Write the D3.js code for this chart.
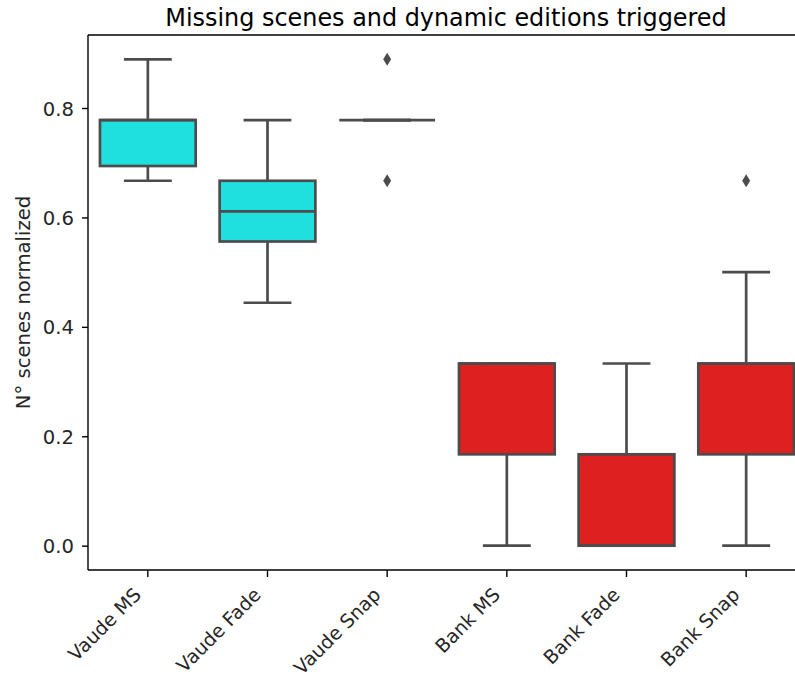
<!DOCTYPE html>
<html>
<head>
<meta charset="utf-8">
<script src="https://cdn.jsdelivr.net/npm/d3@7"></script>
<style>
  html, body { margin: 0; padding: 0; background: #fff; }
  svg { display: block; }
  svg text { font-family: "DejaVu Sans", sans-serif; }
</style>
</head>
<body>
<svg id="chart" width="795" height="679"></svg>
<script>
// Box statistics per condition (normalized number of missing scenes)
const categories   = ["Vaude MS", "Vaude Fade", "Vaude Snap", "Bank MS", "Bank Fade", "Bank Snap"];
const groups       = ["Vaude", "Vaude", "Vaude", "Bank", "Bank", "Bank"];
const whiskerLow   = [0.667, 0.444, 0.778, 0.000, 0.000, 0.000];
const quartile1    = [0.694, 0.556, 0.778, 0.167, 0.000, 0.167];
const medians      = [0.778, 0.611, 0.778, 0.333, 0.000, 0.333];
const quartile3    = [0.778, 0.667, 0.778, 0.333, 0.167, 0.333];
const whiskerHigh  = [0.889, 0.778, 0.778, 0.333, 0.333, 0.500];
const outliers     = [[], [], [0.889, 0.667], [], [], [0.667]];
const yTicks       = [0.0, 0.2, 0.4, 0.6, 0.8];
const groupColors  = { Vaude: "#20dfdf", Bank: "#df2020" };

const lineGray = "#4c4c4c";
const svg = d3.select("#chart");
const margin = { left: 88, right: -11, top: 35, bottom: 109 };
const W = 795, H = 679;
const x0 = margin.left, x1 = W - margin.right;
const y0 = margin.top, y1 = H - margin.bottom;

const boxes = categories.map((c, i) => ({
  cat: c, group: groups[i], lo: whiskerLow[i], q1: quartile1[i], med: medians[i],
  q3: quartile3[i], hi: whiskerHigh[i], fliers: outliers[i]
}));

const allVals = boxes.flatMap(b => [b.lo, b.hi, ...b.fliers]);
const vMin = d3.min(allVals), vMax = d3.max(allVals);
const pad = (vMax - vMin) * 0.05;

const x = d3.scaleBand().domain(categories).range([x0, x1]).paddingInner(0).paddingOuter(0);
const y = d3.scaleLinear().domain([vMin - pad, vMax + pad]).range([y1, y0]);

const boxW = x.bandwidth() * 0.8;
const capW = boxW * 0.5;
const lw = 2.7;
const fontFam = '"DejaVu Sans", sans-serif';
const tickFont = "19.6px";

// axes
const yAxis = svg.append("g").attr("transform", `translate(${x0},0)`)
  .call(d3.axisLeft(y).tickValues(yTicks).tickFormat(d3.format(".1f")).tickSize(6).tickPadding(8));
const xAxis = svg.append("g").attr("transform", `translate(0,${y1})`)
  .call(d3.axisBottom(x).tickSize(7).tickPadding(6));
[yAxis, xAxis].forEach(a => {
  a.attr("font-family", fontFam).attr("font-size", null);
  a.select(".domain").remove();
  a.selectAll(".tick line").attr("stroke", "#000").attr("stroke-width", 1.4);
  a.selectAll(".tick text").attr("fill", "#262626").style("font-size", tickFont);
});
yAxis.selectAll(".tick text").attr("dy", "0.36em");
xAxis.selectAll(".tick text")
  .style("font-size", "19px")
  .attr("text-anchor", "end")
  .attr("x", 0).attr("y", 0).attr("dy", 0)
  .attr("transform", "translate(-5.5,26) rotate(-45)");

// boxes
const gBox = svg.append("g");
boxes.forEach(b => {
  const cx = x(b.cat) + x.bandwidth() / 2;
  const g = gBox.append("g");
  // whiskers
  g.append("line").attr("x1", cx).attr("x2", cx).attr("y1", y(b.q1)).attr("y2", y(b.lo))
    .attr("stroke", lineGray).attr("stroke-width", lw);
  g.append("line").attr("x1", cx).attr("x2", cx).attr("y1", y(b.q3)).attr("y2", y(b.hi))
    .attr("stroke", lineGray).attr("stroke-width", lw);
  // caps
  [b.lo, b.hi].forEach(v => {
    g.append("line").attr("x1", cx - capW / 2).attr("x2", cx + capW / 2)
      .attr("y1", y(v)).attr("y2", y(v))
      .attr("stroke", lineGray).attr("stroke-width", lw);
  });
  // box
  g.append("rect").attr("x", cx - boxW / 2).attr("width", boxW)
    .attr("y", y(b.q3)).attr("height", Math.max(0, y(b.q1) - y(b.q3)))
    .attr("fill", groupColors[b.group]).attr("stroke", lineGray).attr("stroke-width", lw);
  // median
  g.append("line").attr("x1", cx - boxW / 2).attr("x2", cx + boxW / 2)
    .attr("y1", y(b.med)).attr("y2", y(b.med))
    .attr("stroke", lineGray).attr("stroke-width", lw);
  // outliers (thin diamonds)
  b.fliers.forEach(v => {
    const py = y(v);
    g.append("path")
      .attr("d", `M${cx},${py - 6.5} L${cx + 4},${py} L${cx},${py + 6.5} L${cx - 4},${py} Z`)
      .attr("fill", lineGray);
  });
});

// spines
const spine = svg.append("g").attr("fill", "none").attr("stroke", "#000").attr("stroke-width", 1.4);
spine.append("line").attr("x1", x0).attr("x2", x1).attr("y1", y0).attr("y2", y0);
spine.append("line").attr("x1", x0).attr("x2", x1).attr("y1", y1).attr("y2", y1);
spine.append("line").attr("x1", x0).attr("x2", x0).attr("y1", y0).attr("y2", y1);
spine.append("line").attr("x1", x1).attr("x2", x1).attr("y1", y0).attr("y2", y1);

// title and axis label
svg.append("text").attr("x", 446).attr("y", 26)
  .attr("text-anchor", "middle").style("font-size", "23.9px").attr("fill", "#000")
  .text("Missing scenes and dynamic editions triggered");
svg.append("text")
  .attr("transform", `translate(30,${(y0 + y1) / 2}) rotate(-90)`)
  .attr("text-anchor", "middle").style("font-size", tickFont).attr("fill", "#262626")
  .text("N° scenes normalized");
</script>
</body>
</html>
